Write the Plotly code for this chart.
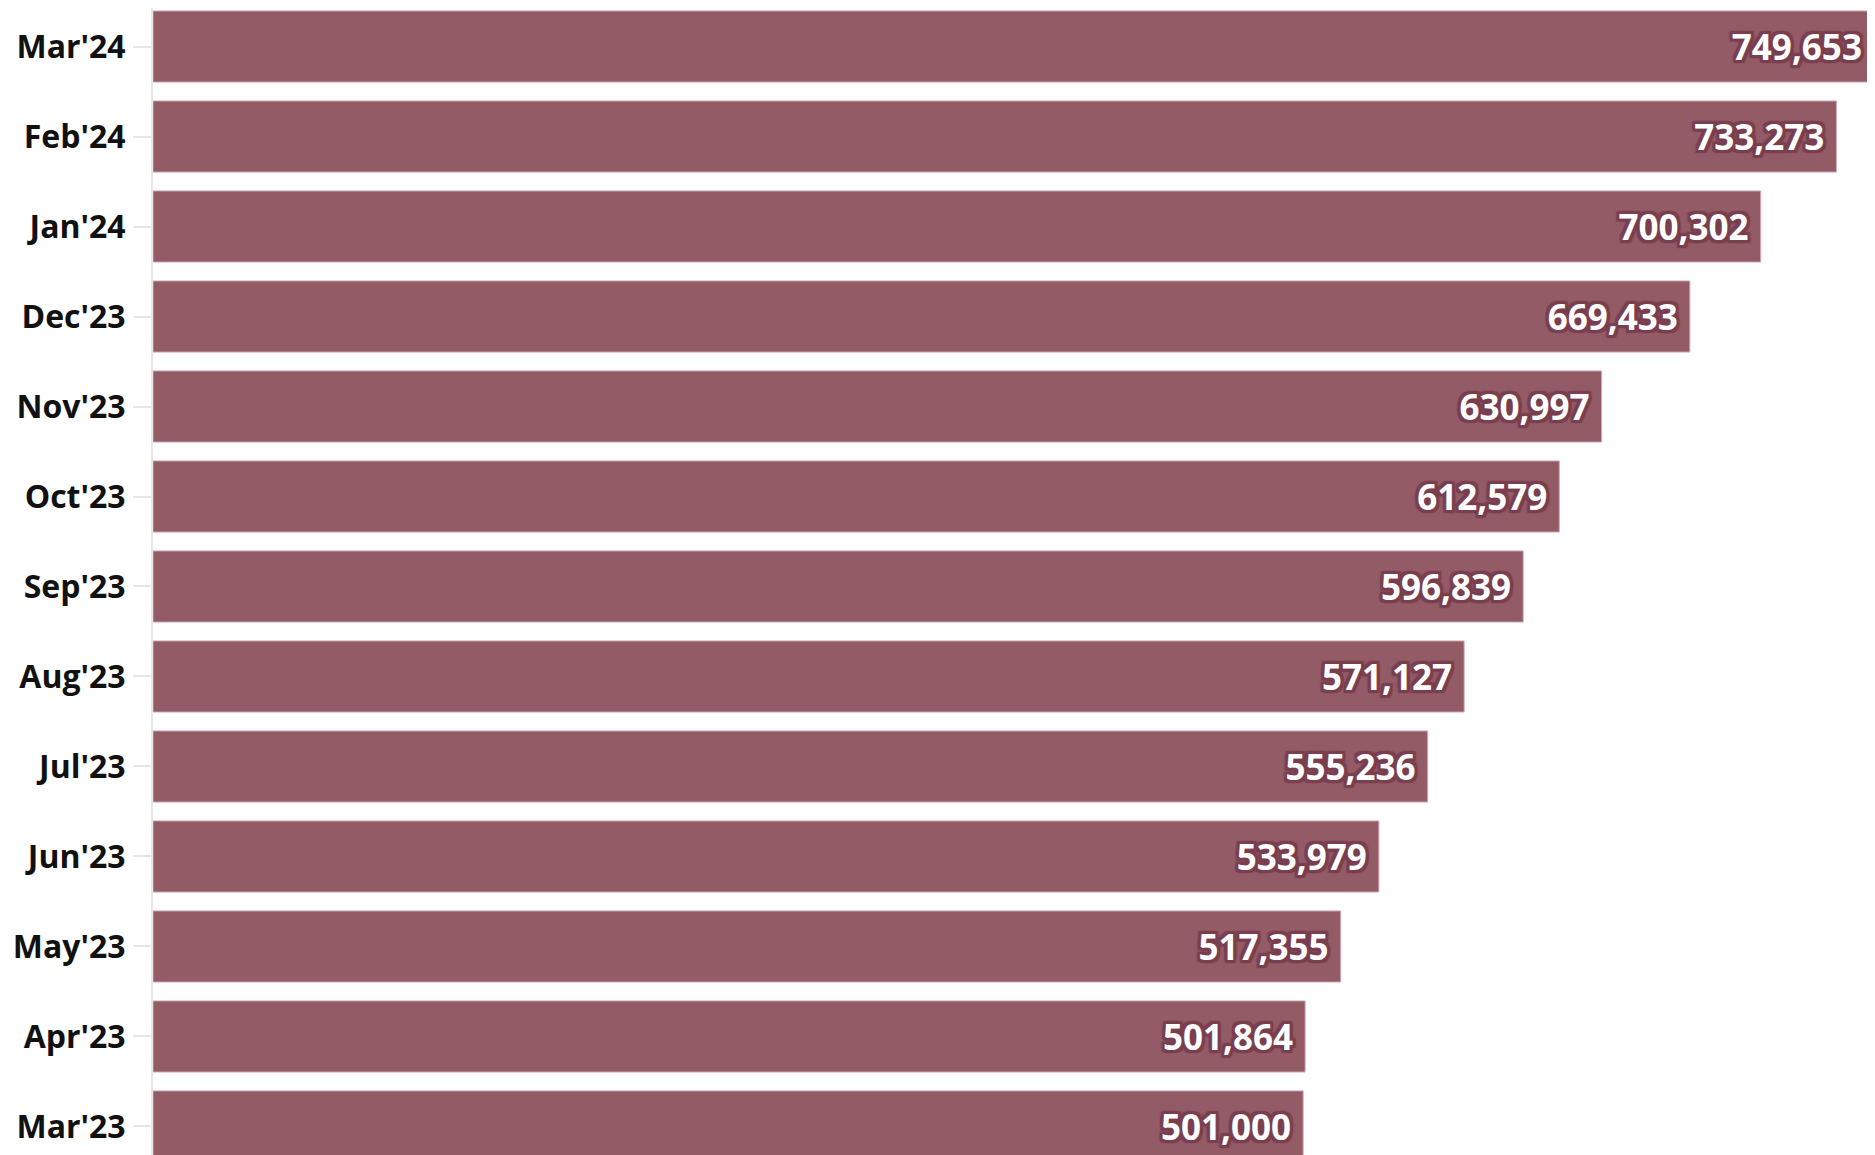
import plotly.graph_objects as go

months = ["Mar'23", "Apr'23", "May'23", "Jun'23", "Jul'23", "Aug'23", "Sep'23",
          "Oct'23", "Nov'23", "Dec'23", "Jan'24", "Feb'24", "Mar'24"]
values = [501000, 501864, 517355, 533979, 555236, 571127, 596839,
          612579, 630997, 669433, 700302, 733273, 749653]

bar_color = "#935B66"
shadow_c = "#7a3f4f"
shadow = ", ".join(f"{dx}px {dy}px 1px {shadow_c}" for dx, dy in
                   [(-3, -3), (3, -3), (-3, 3), (3, 3), (0, 3), (0, -3), (3, 0), (-3, 0),
                    (-2, -2), (2, 2), (2, -2), (-2, 2)])

fig = go.Figure(go.Bar(
    x=values, y=months, orientation="h",
    marker=dict(color=bar_color, line=dict(color="#cfaab2", width=1)),
    texttemplate="%{x:,}\u00a0",
    textposition="inside", insidetextanchor="end",
    textfont=dict(family="Open Sans, Noto Sans, sans-serif", size=35, color="white",
                  weight="bold", shadow=shadow),
    cliponaxis=True,
))

fig.update_layout(
    width=1867, height=1147,
    margin=dict(l=145, r=0, t=0, b=0),
    paper_bgcolor="white", plot_bgcolor="white",
    bargap=0.21, showlegend=False,
)
fig.update_xaxes(range=[0, max(values) * 1722 / 1721], showgrid=False, zeroline=False,
                 showticklabels=False, showline=False, fixedrange=True)
fig.update_yaxes(range=[-0.317, 12.428], showgrid=False, zeroline=False,
                 showline=True, linecolor="#e6e6e6", linewidth=2,
                 ticks="outside", ticklen=18, tickwidth=2, tickcolor="#e6e6e6",
                 ticklabelstandoff=1,
                 tickfont=dict(family="Open Sans, Noto Sans, sans-serif", size=32,
                               color="#111111", weight="bold"))

fig.write_html("out.html")
